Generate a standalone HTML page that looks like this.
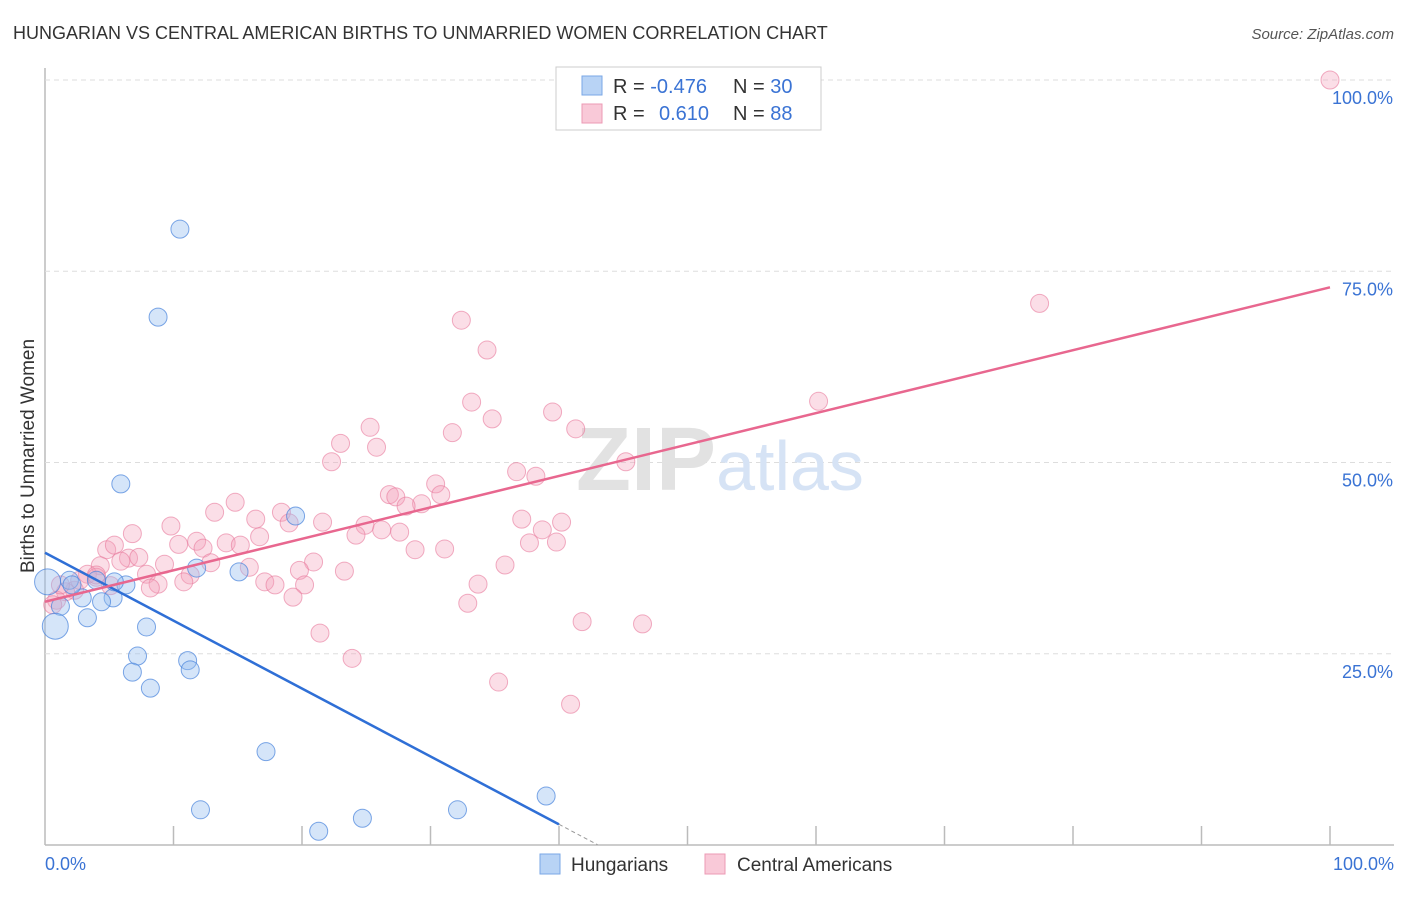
<!DOCTYPE html>
<html><head><meta charset="utf-8"><style>
body{margin:0;background:#fff;font-family:"Liberation Sans",sans-serif;}
svg text{font-family:"Liberation Sans",sans-serif;}
</style></head><body>
<svg id="chart" width="1406" height="892">
<text x="13" y="39" font-size="18" fill="#333">HUNGARIAN VS CENTRAL AMERICAN BIRTHS TO UNMARRIED WOMEN CORRELATION CHART</text>
<text x="1394" y="39" font-size="15" fill="#555" font-style="italic" text-anchor="end">Source: ZipAtlas.com</text>
<g id="grid"></g>
<text x="720" y="490" font-size="90" text-anchor="middle" font-family="Liberation Serif" font-weight="bold"><tspan fill="#e2e2e2">ZIP</tspan><tspan fill="#d6e3f5" font-family="Liberation Sans" font-weight="normal" font-size="70">atlas</tspan></text>
<g id="points"></g>
<g id="lines"></g>
<text transform="translate(34,456) rotate(-90)" font-size="19" fill="#333" text-anchor="middle">Births to Unmarried Women</text>
<text x="45" y="870" font-size="18" fill="#3a73d4">0.0%</text>
<text x="1394" y="870" font-size="18" fill="#3a73d4" text-anchor="end">100.0%</text>
<g>
<rect x="556" y="67" width="265" height="63" fill="#fff" stroke="#ccc"/>
<rect x="582" y="76" width="20" height="19" fill="#b8d3f5" stroke="#7aa7e6"/>
<rect x="582" y="104" width="20" height="19" fill="#f9c9d8" stroke="#ec9ab4"/>
<text x="613" y="93" font-size="20" fill="#333">R = <tspan fill="#3a73d4">-0.476</tspan><tspan x="733">N = </tspan><tspan fill="#3a73d4">30</tspan></text>
<text x="613" y="120" font-size="20" fill="#333">R = <tspan x="659" fill="#3a73d4">0.610</tspan><tspan x="733">N = </tspan><tspan fill="#3a73d4">88</tspan></text>
</g>
<g>
<rect x="540" y="854" width="20" height="20" fill="#b8d3f5" stroke="#7aa7e6"/>
<text x="571" y="871" font-size="19" fill="#333">Hungarians</text>
<rect x="705" y="854" width="20" height="20" fill="#f9c9d8" stroke="#ec9ab4"/>
<text x="737" y="871" font-size="19" fill="#333">Central Americans</text>
</g>
</svg>
<script>
const yTicks=[25,50,75,100];
const yTickLabels=["25.0%","50.0%","75.0%","100.0%"];
const xTicks=[10,20,30,40,50,60,70,80,90,100];
const blueX=[10.5,8.8,5.9,19.5,15.1,11.8,6.3,5.3,4.4,2.9,1.9,4.0,1.2,0.8,0.2,3.3,7.9,7.2,11.1,11.3,6.8,8.2,17.2,12.1,21.3,24.7,32.1,39.0,5.4,2.1];
const blueY=[80.5,69.0,47.2,43.0,35.7,36.2,34.0,32.3,31.8,32.3,34.6,34.6,31.2,28.6,34.4,29.7,28.5,24.7,24.1,22.9,22.6,20.5,12.2,4.6,1.8,3.5,4.6,6.4,34.4,34.0];
const blueBig=[0.8,0.2];
const pinkX=[100,77.4,32.4,34.4,60.2,33.2,39.5,34.8,25.3,31.7,41.3,23.0,25.8,22.3,45.2,36.7,38.2,30.4,26.8,30.8,27.3,14.8,29.3,28.1,18.4,13.2,16.4,19.0,21.6,37.1,40.2,24.9,38.7,9.8,27.6,26.2,24.2,16.7,6.8,11.8,37.7,39.8,14.1,15.2,12.3,10.4,4.8,28.8,31.1,5.4,6.5,7.3,9.3,12.9,15.9,4.3,20.9,19.8,5.9,23.3,35.8,3.3,7.9,11.3,4.0,8.8,10.8,17.1,17.9,20.2,33.7,8.2,2.3,1.6,19.3,0.9,0.6,32.9,41.8,46.5,21.4,23.9,35.3,40.9,4.0,2.7,5.1,1.2];
const pinkY=[100,70.8,68.6,64.7,58.0,57.9,56.6,55.7,54.6,53.9,54.4,52.5,52.0,50.1,50.1,48.8,48.2,47.2,45.8,45.8,45.5,44.8,44.6,44.3,43.5,43.5,42.6,42.1,42.2,42.6,42.2,41.8,41.2,41.7,40.9,41.2,40.5,40.3,40.7,39.7,39.5,39.6,39.5,39.2,38.8,39.3,38.6,38.6,38.7,39.2,37.5,37.6,36.7,36.9,36.3,36.5,37.0,35.9,37.1,35.8,36.6,35.4,35.4,35.3,35.0,34.1,34.4,34.4,34.0,34.0,34.1,33.6,33.3,33.1,32.4,32.0,31.4,31.6,29.2,28.9,27.7,24.4,21.3,18.4,35.3,34.6,33.9,34.0];
const blueLine=[38.2,-0.8875];
const pinkLine=[31.8,0.411];
const X=v=>45+v*12.85, Y=v=>845-v*7.65;
const NS="http://www.w3.org/2000/svg";
function mk(tag,attrs,parent){const e=document.createElementNS(NS,tag);for(const k in attrs)e.setAttribute(k,attrs[k]);document.getElementById(parent).appendChild(e);return e;}
const ax=mk('line',{x1:45,y1:68,x2:45,y2:845,stroke:'#bbb','stroke-width':1.5},'grid');


const bx=mk('line',{x1:45,y1:845,x2:1394,y2:845,stroke:'#bbb','stroke-width':1.5},'grid');


yTicks.forEach((t,i)=>{
 const g=mk('line',{x1:45,y1:Y(t),x2:1394,y2:Y(t),stroke:'#ddd','stroke-dasharray':'5,4'},'grid');
 
 
 const tx=mk('text',{x:1393,y:Y(t)+24,'font-size':18,fill:'#3a73d4','text-anchor':'end'},'grid');
 tx.textContent=yTickLabels[i];
 
 
});
xTicks.forEach(t=>{
 const l=mk('line',{x1:X(t),y1:826,x2:X(t),y2:845,stroke:'#bbb','stroke-width':1.5},'grid');
 
 
});
pinkX.forEach((x,i)=>{
 const c=mk('circle',{cx:X(x),cy:Y(pinkY[i]),r:9,fill:'rgba(244,160,185,0.35)',stroke:'rgba(232,120,155,0.6)','stroke-width':1},'points');
 
 
});
blueX.forEach((x,i)=>{
 const big=blueBig.includes(x);
 const c=mk('circle',{cx:X(x),cy:Y(blueY[i]),r:big?13:9,fill:'rgba(150,190,240,0.4)',stroke:'rgba(70,130,220,0.7)','stroke-width':1},'points');
 
 
});
const bl=mk('line',{x1:X(0),y1:Y(blueLine[0]),x2:X(40),y2:Y(blueLine[0]+blueLine[1]*40),stroke:'#2f6fd6','stroke-width':2.5},'lines');


const bd=mk('line',{x1:X(40),y1:Y(blueLine[0]+blueLine[1]*40),x2:X(43),y2:Y(blueLine[0]+blueLine[1]*43),stroke:'#999','stroke-width':1,'stroke-dasharray':'4,3'},'lines');


const pl=mk('line',{x1:X(0),y1:Y(pinkLine[0]),x2:X(100),y2:Y(pinkLine[0]+pinkLine[1]*100),stroke:'#e8678f','stroke-width':2.5},'lines');


</script>
</body></html>
